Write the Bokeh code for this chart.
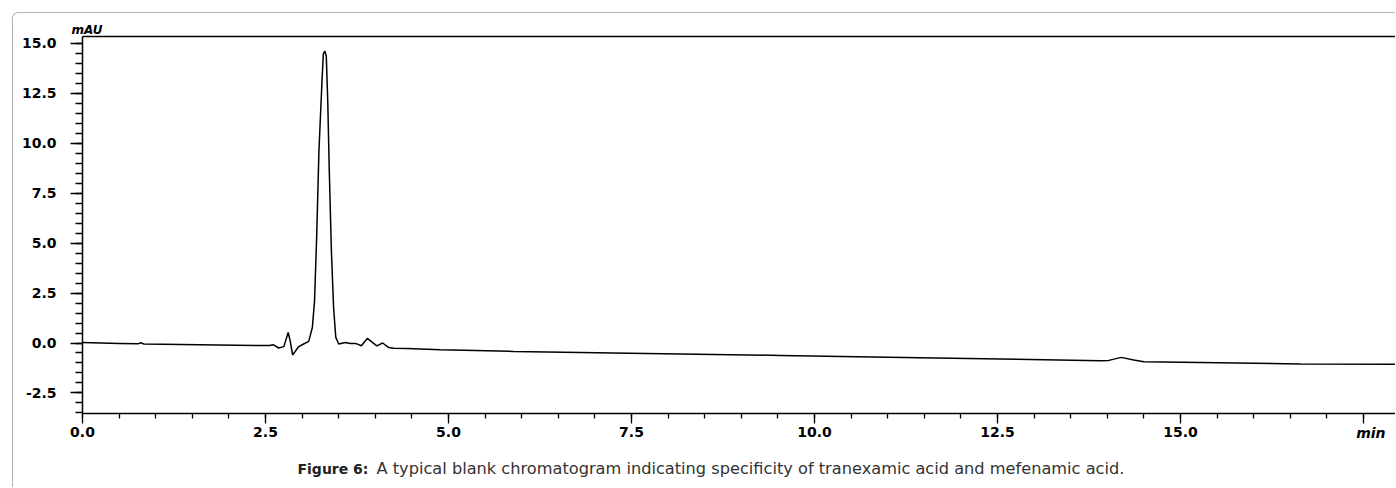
from bokeh.plotting import figure
from bokeh.models import (Range1d, LinearAxis, SingleIntervalTicker, FixedTicker,
                          Title, NumeralTickFormatter)
from bokeh.embed import file_html
from bokeh.resources import INLINE

# Chromatogram trace: retention time (min) and signal (mAU)
time_min = [0.0, 0.5, 0.76, 0.79, 0.84, 1.6, 2.4, 2.55, 2.61, 2.68, 2.75, 2.81, 2.84,
            2.87, 2.91, 2.95, 3.02, 3.09, 3.14, 3.17, 3.20, 3.23, 3.27, 3.29, 3.31,
            3.33, 3.35, 3.37, 3.40, 3.43, 3.46, 3.50, 3.59, 3.66, 3.73, 3.81, 3.89,
            3.96, 4.02, 4.10, 4.18, 4.25, 4.43, 4.89, 5.89, 7.25, 8.62, 9.53, 11.0,
            12.54, 13.91, 14.02, 14.19, 14.36, 14.50, 15.27, 16.64, 17.95]
signal_mau = [0.02, -0.02, -0.04, 0.01, -0.05, -0.09, -0.13, -0.13, -0.09, -0.25, -0.18,
              0.53, 0.05, -0.60, -0.40, -0.19, -0.05, 0.08, 0.78, 2.12, 5.46, 9.63,
              12.98, 14.48, 14.62, 14.39, 12.14, 8.80, 4.62, 1.78, 0.28, -0.05, 0.03,
              -0.02, -0.02, -0.14, 0.23, 0.03, -0.14, 0.0, -0.22, -0.26, -0.28, -0.34,
              -0.42, -0.50, -0.57, -0.62, -0.71, -0.80, -0.89, -0.87, -0.72, -0.85,
              -0.94, -0.97, -1.05, -1.06]

x_label = "min"
y_label = "mAU"
caption_bold = "Figure 6:"
caption_text = "A typical blank chromatogram indicating specificity of tranexamic acid and mefenamic acid."

FONT = "DejaVu Sans"

# canvas starts at page (13, 13): 12px margin + 1px grey border of the figure box
p = figure(width=1383, height=475, output_backend="svg", toolbar_location=None,
           x_range=Range1d(0, 17.95), y_range=Range1d(-3.53, 15.35),
           x_axis_type=None, y_axis_type=None,
           min_border_left=69, min_border_right=0, min_border_top=23, min_border_bottom=75)
p.margin = (12, 0, 0, 12)
p.styles = {"border-top": "1px solid #b4b4b4", "border-left": "1px solid #b4b4b4",
            "border-top-left-radius": "6px"}
p.outline_line_color = None
p.background_fill_color = "white"
p.border_fill_color = None
p.grid.visible = False

xaxis = LinearAxis(ticker=SingleIntervalTicker(interval=2.5, num_minor_ticks=5),
                   formatter=NumeralTickFormatter(format="0.0"),
                   major_label_overrides={17.5: ""})
yaxis = LinearAxis(ticker=SingleIntervalTicker(interval=2.5, num_minor_ticks=5),
                   formatter=NumeralTickFormatter(format="0.0"))
for ax in (xaxis, yaxis):
    ax.axis_line_color = "black"
    ax.axis_line_width = 1.5
    ax.major_tick_line_color = "black"
    ax.minor_tick_line_color = "black"
    ax.major_tick_line_width = 1.3
    ax.minor_tick_line_width = 1.3
    ax.major_tick_in = 0
    ax.minor_tick_in = 0
    ax.major_label_text_font = FONT
    ax.major_label_text_font_style = "bold"
    ax.major_label_text_font_size = "14px"
    ax.major_label_text_color = "black"
xaxis.major_tick_out = 10
xaxis.minor_tick_out = 5
xaxis.major_label_standoff = 3
yaxis.major_tick_out = 12
yaxis.minor_tick_out = 7
yaxis.major_label_standoff = 14
p.add_layout(xaxis, "below")
p.add_layout(yaxis, "left")

top_axis = LinearAxis(ticker=FixedTicker(ticks=[]), axis_line_color="black",
                      axis_line_width=1.5, major_tick_line_color=None,
                      minor_tick_line_color=None, major_tick_out=0,
                      major_label_standoff=0, major_label_text_font_size="0px")
p.add_layout(top_axis, "above")

p.line(time_min, signal_mau, line_color="black", line_width=1.5)

# unit labels
p.add_layout(Title(text=y_label, align="left", offset=-11, standoff=0,
                   vertical_align="bottom", text_font=FONT,
                   text_font_style="bold italic", text_font_size="12px",
                   text_color="black"), "above")
p.add_layout(Title(text=x_label, align="right", offset=11, standoff=-30,
                   vertical_align="top", text_font=FONT,
                   text_font_style="bold italic", text_font_size="14px",
                   text_color="black"), "below")

# caption (normal text on the second line of its panel, bold lead-in pulled onto the same row)
p.add_layout(Title(text=" \n" + caption_text, align="left", offset=294, standoff=0,
                   vertical_align="top", text_font=FONT, text_font_style="normal",
                   text_font_size="16.2px", text_color="#333333"), "below")
p.add_layout(Title(text=caption_bold, align="left", offset=215, standoff=-38,
                   vertical_align="top", text_font=FONT, text_font_style="bold",
                   text_font_size="14px", text_color="#222222"), "below")

open("out.html", "w").write(file_html(p, INLINE))
